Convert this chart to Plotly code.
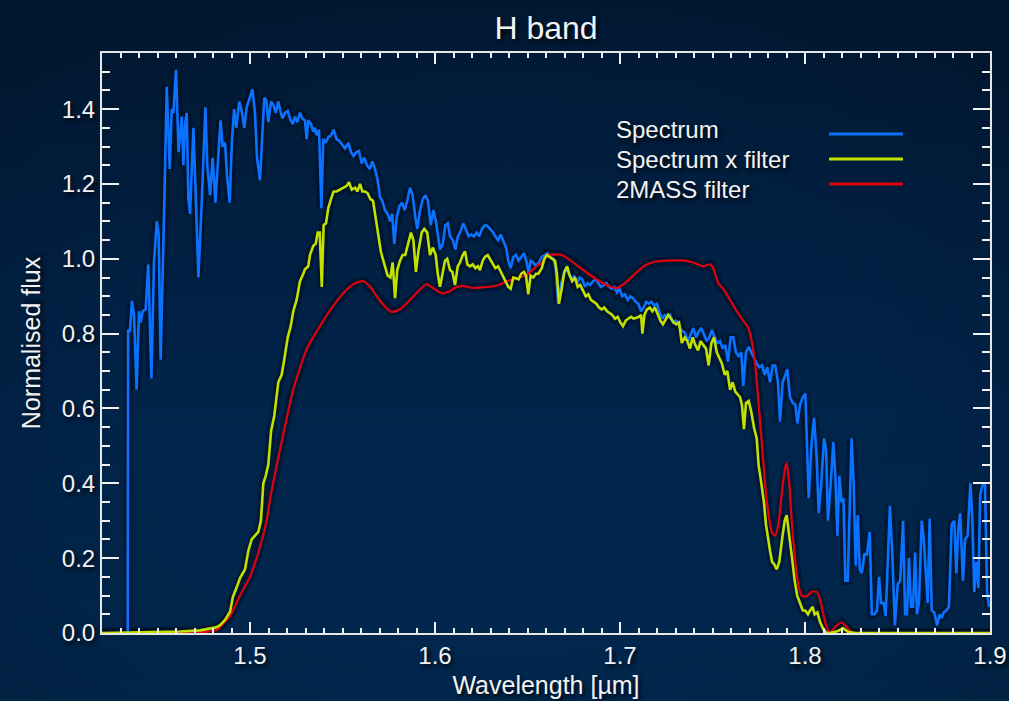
import base64
import plotly.graph_objects as go

# ---------------- data ----------------
spec_wl = [1.4339, 1.4341, 1.4351, 1.4362, 1.4373, 1.4387, 1.4400, 1.4409, 1.4420, 1.4436,
           1.4450, 1.4467, 1.4481, 1.4496, 1.4506, 1.4517, 1.4535, 1.4550, 1.4566, 1.4577,
           1.4586, 1.4600, 1.4614, 1.4631, 1.4640, 1.4649, 1.4658, 1.4667, 1.4676, 1.4694,
           1.4708, 1.4721, 1.4739, 1.4759, 1.4769, 1.4784, 1.4798, 1.4813, 1.4823, 1.4841,
           1.4852, 1.4865, 1.4876, 1.4890, 1.4903, 1.4914, 1.4926, 1.4942, 1.4957, 1.4969,
           1.4982, 1.5000, 1.5013, 1.5027, 1.5038, 1.5054, 1.5067, 1.5077, 1.5088, 1.5099,
           1.5114, 1.5128, 1.5139, 1.5153, 1.5164, 1.5175, 1.5189, 1.5204, 1.5216, 1.5231,
           1.5243, 1.5256, 1.5270, 1.5283, 1.5297, 1.5306, 1.5315, 1.5330, 1.5342, 1.5351,
           1.5360, 1.5373, 1.5386, 1.5396, 1.5409, 1.5423, 1.5438, 1.5452, 1.5468, 1.5483,
           1.5499, 1.5514, 1.5532, 1.5546, 1.5560, 1.5575, 1.5589, 1.5604, 1.5618, 1.5632,
           1.5647, 1.5661, 1.5676, 1.5690, 1.5703, 1.5715, 1.5730, 1.5744, 1.5758, 1.5769,
           1.5780, 1.5793, 1.5807, 1.5822, 1.5836, 1.5850, 1.5865, 1.5879, 1.5894, 1.5904,
           1.5919, 1.5934, 1.5948, 1.5962, 1.5977, 1.5991, 1.6005, 1.6018, 1.6027, 1.6042,
           1.6056, 1.6070, 1.6081, 1.6096, 1.6110, 1.6124, 1.6139, 1.6153, 1.6168, 1.6182,
           1.6196, 1.6211, 1.6225, 1.6239, 1.6254, 1.6269, 1.6283, 1.6297, 1.6312, 1.6326,
           1.6341, 1.6355, 1.6369, 1.6384, 1.6396, 1.6409, 1.6423, 1.6438, 1.6452, 1.6466,
           1.6481, 1.6496, 1.6506, 1.6517, 1.6531, 1.6546, 1.6561, 1.6577, 1.6595, 1.6609,
           1.6623, 1.6640, 1.6652, 1.6666, 1.6681, 1.6696, 1.6710, 1.6724, 1.6739, 1.6753,
           1.6768, 1.6782, 1.6796, 1.6811, 1.6825, 1.6839, 1.6854, 1.6869, 1.6883, 1.6897,
           1.6912, 1.6926, 1.6941, 1.6955, 1.6969, 1.6984, 1.6998, 1.7012, 1.7027, 1.7042,
           1.7056, 1.7070, 1.7085, 1.7099, 1.7114, 1.7128, 1.7142, 1.7157, 1.7171, 1.7185,
           1.7200, 1.7215, 1.7229, 1.7243, 1.7258, 1.7272, 1.7286, 1.7301, 1.7315, 1.7330,
           1.7344, 1.7353, 1.7368, 1.7382, 1.7396, 1.7411, 1.7425, 1.7439, 1.7454, 1.7469,
           1.7483, 1.7497, 1.7512, 1.7526, 1.7541, 1.7555, 1.7569, 1.7584, 1.7598, 1.7612,
           1.7627, 1.7642, 1.7656, 1.7666, 1.7681, 1.7696, 1.7710, 1.7724, 1.7739, 1.7753,
           1.7768, 1.7782, 1.7796, 1.7811, 1.7825, 1.7839, 1.7854, 1.7865, 1.7879, 1.7894,
           1.7904, 1.7919, 1.7934, 1.7948, 1.7959, 1.7973, 1.7988, 1.8002, 1.8009, 1.8020,
           1.8036, 1.8049, 1.8063, 1.8074, 1.8088, 1.8103, 1.8114, 1.8124, 1.8139, 1.8153,
           1.8164, 1.8175, 1.8186, 1.8197, 1.8208, 1.8218, 1.8231, 1.8242, 1.8252, 1.8263,
           1.8274, 1.8285, 1.8296, 1.8307, 1.8321, 1.8335, 1.8350, 1.8361, 1.8375, 1.8389,
           1.8400, 1.8411, 1.8425, 1.8436, 1.8447, 1.8459, 1.8472, 1.8486, 1.8501, 1.8515,
           1.8530, 1.8541, 1.8551, 1.8562, 1.8573, 1.8584, 1.8595, 1.8605, 1.8616, 1.8631,
           1.8642, 1.8652, 1.8663, 1.8674, 1.8685, 1.8699, 1.8714, 1.8728, 1.8739, 1.8750,
           1.8764, 1.8778, 1.8793, 1.8807, 1.8818, 1.8829, 1.8839, 1.8854, 1.8865, 1.8879,
           1.8894, 1.8904, 1.8915, 1.8926, 1.8937, 1.8947, 1.8962, 1.8973, 1.8984, 1.8995]
spec_flux = [0.00, 0.81, 0.805, 0.888, 0.85, 0.65, 0.86, 0.83, 0.86, 0.865,
             0.985, 0.68, 0.99, 1.10, 1.07, 0.73, 1.11, 1.46, 1.24, 1.40,
             1.39, 1.505, 1.285, 1.38, 1.25, 1.36, 1.39, 1.16, 1.12, 1.35,
             1.15, 0.95, 1.15, 1.405, 1.25, 1.17, 1.27, 1.15, 1.23, 1.37,
             1.30, 1.31, 1.22, 1.15, 1.32, 1.40, 1.35, 1.42, 1.39, 1.35,
             1.405, 1.43, 1.453, 1.39, 1.27, 1.21, 1.35, 1.43, 1.425, 1.365,
             1.42, 1.41, 1.39, 1.42, 1.395, 1.375, 1.39, 1.395, 1.375, 1.36,
             1.38, 1.365, 1.39, 1.375, 1.37, 1.32, 1.37, 1.36, 1.34, 1.35,
             1.33, 1.345, 1.135, 1.32, 1.31, 1.325, 1.33, 1.345, 1.32, 1.315,
             1.305, 1.295, 1.31, 1.285, 1.275, 1.285, 1.288, 1.255, 1.27, 1.25,
             1.24, 1.26, 1.24, 1.21, 1.165, 1.155, 1.13, 1.12, 1.10, 1.12,
             1.04, 1.11, 1.14, 1.15, 1.13, 1.155, 1.19, 1.17, 1.11, 1.08,
             1.13, 1.16, 1.17, 1.155, 1.09, 1.13, 1.10, 1.05, 1.025, 1.04,
             1.09, 1.095, 1.06, 1.05, 1.025, 1.06, 1.075, 1.095, 1.075, 1.06,
             1.065, 1.06, 1.07, 1.06, 1.08, 1.09, 1.088, 1.08, 1.072, 1.06,
             1.05, 1.065, 1.05, 1.03, 0.995, 0.975, 1.005, 1.01, 0.995, 1.005,
             1.015, 0.99, 0.96, 0.995, 0.99, 0.98, 0.99, 1.005, 1.01, 1.015,
             1.005, 1.00, 0.975, 0.88, 0.93, 0.96, 0.975, 0.96, 0.945, 0.955,
             0.935, 0.95, 0.945, 0.925, 0.935, 0.93, 0.94, 0.945, 0.935, 0.925,
             0.93, 0.935, 0.925, 0.92, 0.925, 0.91, 0.92, 0.90, 0.905, 0.89,
             0.90, 0.895, 0.885, 0.88, 0.86, 0.87, 0.885, 0.88, 0.885, 0.875,
             0.88, 0.855, 0.84, 0.85, 0.845, 0.85, 0.83, 0.835, 0.83, 0.81,
             0.805, 0.80, 0.78, 0.80, 0.815, 0.79, 0.805, 0.815, 0.795, 0.78,
             0.79, 0.81, 0.79, 0.775, 0.78, 0.76, 0.77, 0.725, 0.79, 0.79,
             0.75, 0.74, 0.75, 0.66, 0.75, 0.765, 0.75, 0.735, 0.72, 0.71,
             0.715, 0.69, 0.71, 0.67, 0.715, 0.715, 0.67, 0.565, 0.67, 0.69,
             0.705, 0.63, 0.615, 0.61, 0.56, 0.61, 0.63, 0.64, 0.54, 0.36,
             0.51, 0.575, 0.47, 0.32, 0.40, 0.52, 0.49, 0.30, 0.40, 0.51,
             0.42, 0.26, 0.42, 0.35, 0.36, 0.14, 0.14, 0.35, 0.52, 0.40,
             0.18, 0.315, 0.17, 0.16, 0.21, 0.21, 0.27, 0.05, 0.05, 0.06,
             0.15, 0.08, 0.08, 0.045, 0.20, 0.34, 0.21, 0.02, 0.13, 0.14,
             0.30, 0.05, 0.05, 0.20, 0.07, 0.07, 0.215, 0.05, 0.08, 0.30,
             0.25, 0.15, 0.08, 0.305, 0.06, 0.055, 0.02, 0.05, 0.04, 0.055,
             0.06, 0.07, 0.29, 0.30, 0.16, 0.28, 0.32, 0.14, 0.25, 0.26,
             0.40, 0.31, 0.11, 0.19, 0.12, 0.37, 0.40, 0.40, 0.11, 0.07]

specfilt_wl = [1.4200, 1.4514, 1.4622, 1.4730, 1.4784, 1.4816, 1.4838, 1.4865, 1.4892, 1.4908,
               1.4930, 1.4946, 1.4973, 1.4991, 1.5009, 1.5027, 1.5045, 1.5059, 1.5072, 1.5085,
               1.5099, 1.5114, 1.5131, 1.5153, 1.5171, 1.5185, 1.5204, 1.5220, 1.5234, 1.5252,
               1.5270, 1.5288, 1.5297, 1.5315, 1.5324, 1.5342, 1.5355, 1.5366, 1.5377, 1.5388,
               1.5398, 1.5411, 1.5423, 1.5438, 1.5452, 1.5468, 1.5486, 1.5504, 1.5523, 1.5535,
               1.5550, 1.5568, 1.5580, 1.5595, 1.5607, 1.5622, 1.5636, 1.5650, 1.5665, 1.5679,
               1.5694, 1.5707, 1.5715, 1.5730, 1.5744, 1.5759, 1.5771, 1.5784, 1.5796, 1.5811,
               1.5825, 1.5839, 1.5856, 1.5870, 1.5883, 1.5897, 1.5910, 1.5928, 1.5942, 1.5958,
               1.5973, 1.5988, 1.6004, 1.6015, 1.6027, 1.6042, 1.6054, 1.6066, 1.6081, 1.6094,
               1.6108, 1.6123, 1.6135, 1.6150, 1.6162, 1.6175, 1.6189, 1.6204, 1.6218, 1.6232,
               1.6243, 1.6258, 1.6270, 1.6285, 1.6297, 1.6312, 1.6326, 1.6341, 1.6355, 1.6369,
               1.6384, 1.6396, 1.6409, 1.6423, 1.6438, 1.6452, 1.6466, 1.6481, 1.6492, 1.6504,
               1.6517, 1.6531, 1.6546, 1.6559, 1.6577, 1.6591, 1.6605, 1.6620, 1.6634, 1.6649,
               1.6659, 1.6670, 1.6685, 1.6699, 1.6714, 1.6728, 1.6742, 1.6757, 1.6771, 1.6785,
               1.6800, 1.6815, 1.6829, 1.6843, 1.6858, 1.6872, 1.6886, 1.6901, 1.6915, 1.6930,
               1.6944, 1.6958, 1.6973, 1.6988, 1.7002, 1.7016, 1.7031, 1.7045, 1.7059, 1.7074,
               1.7088, 1.7103, 1.7114, 1.7121, 1.7132, 1.7146, 1.7161, 1.7175, 1.7189, 1.7204,
               1.7218, 1.7232, 1.7247, 1.7261, 1.7276, 1.7290, 1.7304, 1.7319, 1.7334, 1.7350,
               1.7364, 1.7378, 1.7393, 1.7407, 1.7422, 1.7436, 1.7450, 1.7465, 1.7479, 1.7494,
               1.7508, 1.7523, 1.7537, 1.7551, 1.7566, 1.7580, 1.7595, 1.7609, 1.7623, 1.7638,
               1.7649, 1.7659, 1.7670, 1.7681, 1.7696, 1.7710, 1.7724, 1.7739, 1.7749, 1.7764,
               1.7778, 1.7789, 1.7800, 1.7811, 1.7822, 1.7832, 1.7847, 1.7861, 1.7876, 1.7890,
               1.7901, 1.7916, 1.7930, 1.7944, 1.7958, 1.7973, 1.7988, 1.8002, 1.8016, 1.8027,
               1.8041, 1.8052, 1.8067, 1.8081, 1.8099, 1.8118, 1.8135, 1.8178, 1.8205, 1.8232,
               1.8270, 1.9000]
specfilt_flux = [0.0, 0.002, 0.004, 0.007, 0.011, 0.015, 0.021, 0.035, 0.057, 0.097,
                 0.125, 0.147, 0.17, 0.22, 0.25, 0.26, 0.27, 0.30, 0.40, 0.42,
                 0.45, 0.54, 0.58, 0.67, 0.69, 0.73, 0.79, 0.82, 0.86, 0.89,
                 0.94, 0.96, 0.972, 0.98, 1.01, 1.035, 1.04, 1.07, 1.07, 0.925,
                 1.09, 1.095, 1.135, 1.16, 1.18, 1.18, 1.185, 1.19, 1.195, 1.205,
                 1.185, 1.19, 1.18, 1.20, 1.18, 1.18, 1.175, 1.16, 1.155, 1.11,
                 1.06, 1.02, 1.005, 0.975, 0.955, 0.95, 0.99, 0.895, 0.97, 0.995,
                 1.01, 1.01, 1.04, 1.07, 1.05, 0.965, 1.02, 1.07, 1.08, 1.07,
                 1.01, 1.03, 1.01, 0.96, 0.925, 0.97, 0.995, 1.00, 0.97, 0.965,
                 0.93, 0.98, 0.99, 1.01, 1.02, 0.985, 0.98, 0.985, 0.975, 0.98,
                 0.97, 0.995, 1.005, 1.01, 1.00, 0.99, 0.975, 0.98, 0.965, 0.95,
                 0.935, 0.925, 0.92, 0.95, 0.948, 0.945, 0.96, 0.965, 0.955, 0.905,
                 0.955, 0.95, 0.96, 0.96, 0.975, 1.00, 1.01, 1.005, 1.00, 0.995,
                 0.96, 0.88, 0.92, 0.965, 0.98, 0.955, 0.94, 0.95, 0.925, 0.93,
                 0.915, 0.90, 0.905, 0.89, 0.885, 0.88, 0.87, 0.865, 0.87, 0.86,
                 0.855, 0.85, 0.84, 0.845, 0.83, 0.82, 0.835, 0.84, 0.845, 0.84,
                 0.842, 0.845, 0.85, 0.80, 0.85, 0.865, 0.87, 0.86, 0.87, 0.85,
                 0.835, 0.825, 0.84, 0.85, 0.84, 0.83, 0.825, 0.83, 0.775, 0.79,
                 0.78, 0.76, 0.79, 0.77, 0.755, 0.78, 0.77, 0.76, 0.715, 0.775,
                 0.79, 0.75, 0.735, 0.72, 0.69, 0.70, 0.65, 0.67, 0.645, 0.635,
                 0.63, 0.61, 0.545, 0.615, 0.62, 0.59, 0.55, 0.52, 0.45, 0.40,
                 0.35, 0.29, 0.25, 0.22, 0.19, 0.185, 0.17, 0.19, 0.25, 0.30,
                 0.315, 0.26, 0.20, 0.14, 0.10, 0.08, 0.06, 0.06, 0.05, 0.06,
                 0.07, 0.05, 0.055, 0.03, 0.01, 0.0, 0.0, 0.005, 0.013, 0.003,
                 0.0, 0.0]

filt_wl = [1.4200, 1.4622, 1.4730, 1.4820, 1.4854, 1.4892, 1.4946, 1.4973, 1.5000, 1.5054,
           1.5090, 1.5108, 1.5162, 1.5234, 1.5306, 1.5378, 1.5450, 1.5523, 1.5568, 1.5612,
           1.5650, 1.5685, 1.5730, 1.5766, 1.5811, 1.5865, 1.5919, 1.5955, 1.5995, 1.6036,
           1.6075, 1.6117, 1.6153, 1.6207, 1.6261, 1.6333, 1.6387, 1.6441, 1.6495, 1.6549,
           1.6577, 1.6613, 1.6649, 1.6685, 1.6721, 1.6775, 1.6829, 1.6883, 1.6937, 1.6982,
           1.7027, 1.7081, 1.7135, 1.7189, 1.7261, 1.7351, 1.7396, 1.7450, 1.7486, 1.7504,
           1.7531, 1.7558, 1.7595, 1.7631, 1.7666, 1.7694, 1.7712, 1.7730, 1.7748, 1.7766,
           1.7784, 1.7802, 1.7820, 1.7838, 1.7856, 1.7874, 1.7892, 1.7901, 1.7915, 1.7928,
           1.7946, 1.7964, 1.7982, 1.8009, 1.8036, 1.8063, 1.8081, 1.8099, 1.8118, 1.8135,
           1.8171, 1.8198, 1.8222, 1.8252, 1.9000]
filt_flux = [0.0, 0.0, 0.002, 0.008, 0.025, 0.045, 0.10, 0.125, 0.15, 0.23,
             0.30, 0.356, 0.49, 0.65, 0.758, 0.82, 0.874, 0.918, 0.935, 0.940,
             0.925, 0.90, 0.872, 0.858, 0.865, 0.89, 0.918, 0.932, 0.92, 0.908,
             0.912, 0.925, 0.927, 0.922, 0.924, 0.928, 0.94, 0.947, 0.957, 0.98,
             0.99, 1.01, 1.012, 1.01, 1.00, 0.98, 0.96, 0.942, 0.928, 0.922,
             0.935, 0.96, 0.982, 0.992, 0.995, 0.995, 0.99, 0.98, 0.985, 0.975,
             0.935, 0.92, 0.89, 0.86, 0.835, 0.815, 0.78, 0.72, 0.62, 0.51,
             0.40, 0.32, 0.27, 0.26, 0.29, 0.37, 0.44, 0.455, 0.40, 0.30,
             0.20, 0.13, 0.10, 0.098, 0.11, 0.11, 0.09, 0.05, 0.015, 0.002,
             0.02, 0.028, 0.018, 0.002, 0.0]

series_names = ["Spectrum", "Spectrum x filter", "2MASS filter"]
series_colors = ["#0a72ff", "#c2e100", "#e0000e"]

x_range = [1.42, 1.90]
y_range = [0.0, 1.55]

# ---------------- layout geometry ----------------
W, H = 1009, 701
ML, MR, MT, MB = 102, 19, 53, 68
PW, PH = W - ML - MR, H - MT - MB

FONT = "Liberation Sans, Arial, Helvetica, sans-serif"
SHADOW = "2px 3px 4px rgba(0,0,0,0.85)"
WHITE = "#f2f2f2"

fig = go.Figure()

# soft drop-shadows of the curves
for wl, fl in [(spec_wl, spec_flux), (filt_wl, filt_flux), (specfilt_wl, specfilt_flux)]:
    fig.add_trace(go.Scatter(x=wl, y=fl, mode="lines", hoverinfo="skip", showlegend=False,
                             line=dict(color="rgba(0,5,20,0.35)", width=9)))

fig.add_trace(go.Scatter(x=spec_wl, y=spec_flux, mode="lines", name=series_names[0],
                         line=dict(color=series_colors[0], width=2.6), showlegend=False))
fig.add_trace(go.Scatter(x=filt_wl, y=filt_flux, mode="lines", name=series_names[2],
                         line=dict(color=series_colors[2], width=2.2, shape="spline", smoothing=0.6),
                         showlegend=False))
fig.add_trace(go.Scatter(x=specfilt_wl, y=specfilt_flux, mode="lines", name=series_names[1],
                         line=dict(color=series_colors[1], width=2.6), showlegend=False))

# background gradient
svg = f'''<svg xmlns="http://www.w3.org/2000/svg" width="{W}" height="{H}" viewBox="0 0 {W} {H}" preserveAspectRatio="none">
<defs>
<linearGradient id="g" x1="0" y1="0" x2="0" y2="1">
<stop offset="0" stop-color="#011a37"/><stop offset="0.6" stop-color="#01244a"/><stop offset="1" stop-color="#01284f"/>
</linearGradient>
<radialGradient id="v" cx="0.5" cy="0.55" r="0.8">
<stop offset="0.45" stop-color="#000" stop-opacity="0"/><stop offset="1" stop-color="#000" stop-opacity="0.22"/>
</radialGradient>
</defs>
<rect width="{W}" height="{H}" fill="url(#g)"/><rect width="{W}" height="{H}" fill="url(#v)"/>
</svg>'''
src = "data:image/svg+xml;base64," + base64.b64encode(svg.encode()).decode()

fig.add_layout_image(dict(source=src, xref="paper", yref="paper",
                          x=-ML / PW, y=1 + MT / PH, sizex=W / PW, sizey=H / PH,
                          xanchor="left", yanchor="top", sizing="stretch", layer="below"))

# legend (text left, sample line right, as in the reference)
leg_text_y = [(MT + PH - 129.5) / PH, (MT + PH - 159) / PH, (MT + PH - 190) / PH]
leg_line_y = [(MT + PH - 134) / PH, (MT + PH - 159) / PH, (MT + PH - 184) / PH]
for name, col, ty, ly in zip(series_names, series_colors, leg_text_y, leg_line_y):
    fig.add_annotation(text=name, xref="paper", yref="paper", x=(614 - ML) / PW, y=ty,
                       xanchor="left", yanchor="middle", showarrow=False,
                       font=dict(family=FONT, size=24, color=WHITE, shadow=SHADOW))
    fig.add_shape(type="line", xref="paper", yref="paper",
                  x0=(829 - ML) / PW, x1=(903 - ML) / PW, y0=ly, y1=ly,
                  line=dict(color=col, width=3))

axis_common = dict(showline=True, linecolor="#e6e6e6", linewidth=2, mirror="allticks",
                   ticks="inside", tickcolor=WHITE, tickwidth=2, showgrid=False, zeroline=False,
                   tickfont=dict(family=FONT, size=24, color=WHITE, shadow=SHADOW))

fig.update_xaxes(range=x_range, tickmode="linear", tick0=1.5, dtick=0.1, tickformat=".1f",
                 ticklen=11,
                 minor=dict(dtick=0.01, tick0=1.5, ticks="inside", ticklen=5, tickcolor=WHITE, tickwidth=1.5),
                 title=dict(text="Wavelength [µm]", standoff=9,
                            font=dict(family=FONT, size=25, color=WHITE, shadow=SHADOW)),
                 **axis_common)
fig.update_yaxes(range=y_range, tickmode="linear", tick0=0, dtick=0.2, tickformat=".1f",
                 ticklen=17,
                 minor=dict(dtick=0.05, tick0=0, ticks="inside", ticklen=8, tickcolor=WHITE, tickwidth=1.5),
                 title=dict(text="Normalised flux", standoff=14,
                            font=dict(family=FONT, size=25, color=WHITE, shadow=SHADOW)),
                 **axis_common)

fig.update_layout(
    width=W, height=H,
    margin=dict(l=ML, r=MR, t=MT, b=MB, autoexpand=False),
    paper_bgcolor="#011f40", plot_bgcolor="rgba(0,0,0,0)",
    title=dict(text="H band", x=0.5, xref="paper", xanchor="center",
               y=1 - 28 / H, yref="container", yanchor="middle",
               font=dict(family=FONT, size=32, color=WHITE, shadow=SHADOW)),
    showlegend=False,
)

fig.write_html("out.html")
